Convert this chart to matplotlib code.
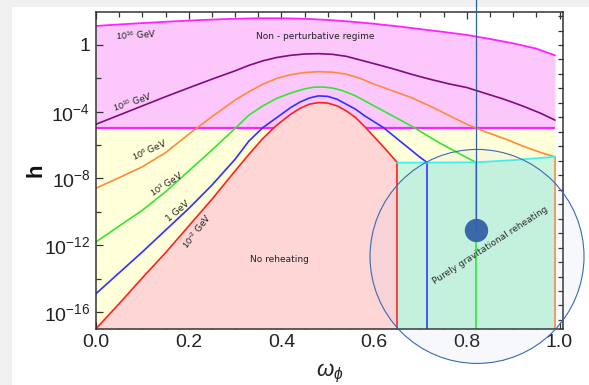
import numpy as np
import matplotlib
matplotlib.use("Agg")
import matplotlib.pyplot as plt
from matplotlib.patches import Rectangle, Ellipse
from matplotlib.lines import Line2D

plt.rcParams['font.family'] = ['Liberation Sans', 'DejaVu Sans']
plt.rcParams['mathtext.fontset'] = 'custom'
plt.rcParams['mathtext.rm'] = 'Liberation Sans'
plt.rcParams['mathtext.it'] = 'Liberation Sans:italic'

# ---- curves: equation-of-state parameter omega vs log10(h) ----
omega_top = [0.0, 0.05, 0.1, 0.15, 0.2, 0.25, 0.3, 0.35, 0.4, 0.45, 0.5, 0.55,
             0.6, 0.65, 0.7, 0.75, 0.8, 0.85, 0.9, 0.95, 0.99]
logh_top = [1.14, 1.23, 1.31, 1.39, 1.46, 1.52, 1.57, 1.6, 1.6, 1.57, 1.5, 1.4,
            1.27, 1.12, 0.95, 0.78, 0.6, 0.36, 0.1, -0.22, -0.62]

omega_1e10 = [0.0, 0.05, 0.1, 0.15, 0.2, 0.25, 0.3, 0.33, 0.36, 0.39, 0.42, 0.45,
              0.48, 0.51, 0.54, 0.57, 0.6, 0.64, 0.68, 0.72, 0.76, 0.8, 0.84,
              0.88, 0.92, 0.96, 0.99]
logh_1e10 = [-4.75, -4.2, -3.65, -3.1, -2.57, -2.05, -1.55, -1.22, -0.95, -0.75,
             -0.62, -0.54, -0.52, -0.56, -0.68, -0.9, -1.12, -1.42, -1.75, -2.05,
             -2.32, -2.55, -2.9, -3.25, -3.65, -4.1, -4.5]

omega_1e6 = [0.0, 0.05, 0.1, 0.15, 0.2, 0.25, 0.3, 0.33, 0.36, 0.39, 0.42, 0.45,
             0.48, 0.51, 0.54, 0.57, 0.6, 0.64, 0.68, 0.72, 0.76, 0.8, 0.84,
             0.88, 0.92, 0.96, 0.99]
logh_1e6 = [-8.58, -7.95, -7.3, -6.45, -5.35, -4.3, -3.3, -2.8, -2.35, -2.0,
            -1.78, -1.65, -1.6, -1.63, -1.75, -2.0, -2.35, -2.75, -3.15, -3.65,
            -4.2, -4.75, -5.2, -5.6, -6.05, -6.45, -6.7]

omega_1e3 = [0.0, 0.05, 0.1, 0.15, 0.2, 0.25, 0.3, 0.33, 0.36, 0.39, 0.42, 0.45,
             0.47, 0.49, 0.51, 0.53, 0.56, 0.59, 0.62, 0.65, 0.68, 0.71, 0.74,
             0.77, 0.8, 0.82]
logh_1e3 = [-11.8, -10.85, -9.9, -8.8, -7.55, -6.3, -5.0, -4.2, -3.65, -3.2,
            -2.88, -2.63, -2.53, -2.52, -2.58, -2.72, -3.05, -3.5, -3.95, -4.4,
            -4.85, -5.35, -5.85, -6.3, -6.75, -7.03]

omega_1 = [0.0, 0.05, 0.1, 0.15, 0.2, 0.25, 0.3, 0.33, 0.36, 0.39, 0.42, 0.44,
           0.46, 0.48, 0.5, 0.52, 0.54, 0.56, 0.58, 0.6, 0.62, 0.64, 0.66, 0.68,
           0.7, 0.715]
logh_1 = [-14.9, -13.65, -12.4, -11.1, -9.8, -8.4, -6.85, -5.75, -4.95, -4.35,
          -3.75, -3.42, -3.18, -3.05, -3.08, -3.25, -3.55, -3.85, -4.25, -4.6,
          -4.95, -5.4, -5.85, -6.3, -6.75, -7.05]

omega_1em2 = [0.0, 0.05, 0.1, 0.15, 0.2, 0.25, 0.3, 0.33, 0.36, 0.39, 0.42, 0.44,
              0.46, 0.48, 0.5, 0.52, 0.54, 0.56, 0.58, 0.6, 0.625, 0.65]
logh_1em2 = [-17.0, -15.5, -13.95, -12.45, -10.85, -9.25, -7.55, -6.55, -5.6,
             -4.8, -4.15, -3.8, -3.55, -3.45, -3.48, -3.65, -3.95, -4.35, -4.9,
             -5.5, -6.25, -7.05]

omega_grav = [0.65, 0.715, 0.82, 0.9, 0.99]
logh_grav = [-7.05, -7.05, -7.03, -6.9, -6.7]

h_pert = 1e-5          # perturbativity bound
omega_span = [0.0, 0.99]
h_floor = 1e-17

labels_T = ["$10^{16}$ GeV", "$10^{10}$ GeV", "$10^{6}$ GeV", "$10^{3}$ GeV",
            "1 GeV", "$10^{-2}$ GeV"]
label_omega = [0.086, 0.078, 0.1165, 0.152, 0.177, 0.217]
label_logh = [0.6, -3.4, -6.32, -8.33, -9.95, -11.17]
label_rot = [3, 18, 24, 32, 40, 52]

# highlighted point
dot_omega, dot_logh = 0.82, -11.08

W, H = 589, 385
fig = plt.figure(figsize=(W / 100, H / 100), dpi=100)
fig.patch.set_facecolor('#f0f0f0')
fig.add_artist(Rectangle((12 / W, 0), 1, (H - 7) / H, transform=fig.transFigure,
                         facecolor='white', edgecolor='none', zorder=0))

ax = fig.add_axes([96 / W, (H - 328.7) / H, 467 / W, 317.1 / H])
ax.set_yscale('log')
ax.set_xlim(0, 1.0075)
ax.set_ylim(h_floor, 1e2)

pink = '#fcc8fc'
yellow = '#ffffd9'
lred = '#ffd6d6'
lgreen = '#c8f7de'

p = lambda v: 10 ** np.asarray(v, dtype=float)

ax.fill_between(omega_top, p(logh_top), h_pert, color=pink, lw=0, zorder=1)
ax.hlines(h_pert, omega_span[0], omega_span[1], color='#ff22ff', lw=1.6, zorder=2)
ax.fill_between(omega_span, h_floor, h_pert, color=yellow, lw=0, zorder=1)
ax.fill_between(omega_1em2, h_floor, p(logh_1em2), color=lred, lw=0, zorder=3)
ax.fill_between(omega_grav, h_floor, p(logh_grav), color=lgreen, lw=0, zorder=3)

ax.plot(omega_top, p(logh_top), color='#ff22ff', lw=1.3, zorder=5)
curves = [(omega_1e10, logh_1e10, '#800a80'),
          (omega_1e6, logh_1e6, '#ff8a3a'),
          (omega_1e3, logh_1e3, '#33e633'),
          (omega_1, logh_1, '#3030ff'),
          (omega_1em2, logh_1em2, '#ff2020')]
for om, lh, c in curves:
    ax.plot(om, p(lh), color=c, lw=1.2, zorder=5, solid_joinstyle='round')
    if om[-1] > 0.6 and lh[-1] < -6:
        ax.vlines(om[-1], h_floor, p(lh[-1]), color=c, lw=1.2, zorder=5)
ax.plot(omega_grav, p(logh_grav), color='#40f0f0', lw=1.3, zorder=5)

tfont = dict(family='DejaVu Sans', fontsize=6.5, color='#222222', zorder=6)
for s, x, y, r in zip(labels_T, label_omega, label_logh, label_rot):
    ax.text(x, 10 ** y, s, rotation=r, ha='center', va='center',
            rotation_mode='anchor', **tfont)
ax.text(0.472, 10 ** 0.48, "Non - perturbative regime", ha='center', va='center', **tfont)
ax.text(0.395, 10 ** -12.85, "No reheating", ha='center', va='center', **tfont)
ax.text(0.85, 10 ** -12.0, "Purely gravitational reheating", rotation=33,
        ha='center', va='center', rotation_mode='anchor', **tfont)

# axes styling
for sp in ax.spines.values():
    sp.set_color('#333333')
    sp.set_linewidth(1.1)
    sp.set_zorder(8)
ax.set_xticks([0, 0.2, 0.4, 0.6, 0.8, 1.0])
ax.set_xticklabels(['0.0', '0.2', '0.4', '0.6', '0.8', '1.0'])
ax.set_xticks(np.arange(0, 1.001, 0.05), minor=True)
ax.set_yticks([1, 1e-4, 1e-8, 1e-12, 1e-16])
ax.set_yticklabels(['1', '$10^{-4}$', '$10^{-8}$', '$10^{-12}$', '$10^{-16}$'])
ax.set_yticks([1e-2, 1e-6, 1e-10, 1e-14], minor=True)
ax.yaxis.set_minor_formatter(matplotlib.ticker.NullFormatter())
ax.tick_params(which='both', direction='in', top=True, right=False,
               colors='#333333', labelcolor='#222222', labelsize=14, width=0.9)
ax.tick_params(which='major', length=5)
ax.tick_params(which='minor', length=3.5)
ax.tick_params(axis='x', pad=4)
ax.tick_params(axis='y', pad=4)

# right-hand frame ticks
axr = ax.twinx()
axr.set_ylim(328.7, 11.6)
axr.set_yticks(45 + 14.47 * np.arange(-2, 20))
axr.tick_params(direction='in', length=3.5, width=0.9, colors='#333333', labelright=False)
axr.set_yticklabels([])
for sp in axr.spines.values():
    sp.set_visible(False)

ax.set_ylabel('h', fontsize=16, fontweight='bold', rotation=90, color='#111111')
ax.yaxis.set_label_coords(-0.106, 0.5)
ax.set_xlabel(r'$\omega_\phi$', fontsize=16, color='#222222')
ax.xaxis.set_label_coords(0.5, -0.105)

# highlight overlay
ax.plot([dot_omega], [10 ** dot_logh], 'o', ms=15.8, color='#3464a6', zorder=12, clip_on=False)
fig.canvas.draw()
dx, dy = fig.transFigure.inverted().transform(ax.transData.transform((dot_omega, 10 ** dot_logh)))
fig.add_artist(Line2D([dx, dx], [dy, 1.0], transform=fig.transFigure,
                      color='#2f5fa8', lw=0.9, zorder=11))
cx, cy = fig.transFigure.inverted().transform(ax.transData.transform((0.822, 10 ** -12.67)))
fig.add_artist(Ellipse((cx, cy), 2 * 107 / W, 2 * 107 / H, transform=fig.transFigure,
                       facecolor=(0.6, 0.66, 0.85, 0.07), edgecolor='#3a6ab0',
                       lw=0.8, zorder=10))

fig.savefig('out.png', dpi=100, facecolor=fig.get_facecolor())
